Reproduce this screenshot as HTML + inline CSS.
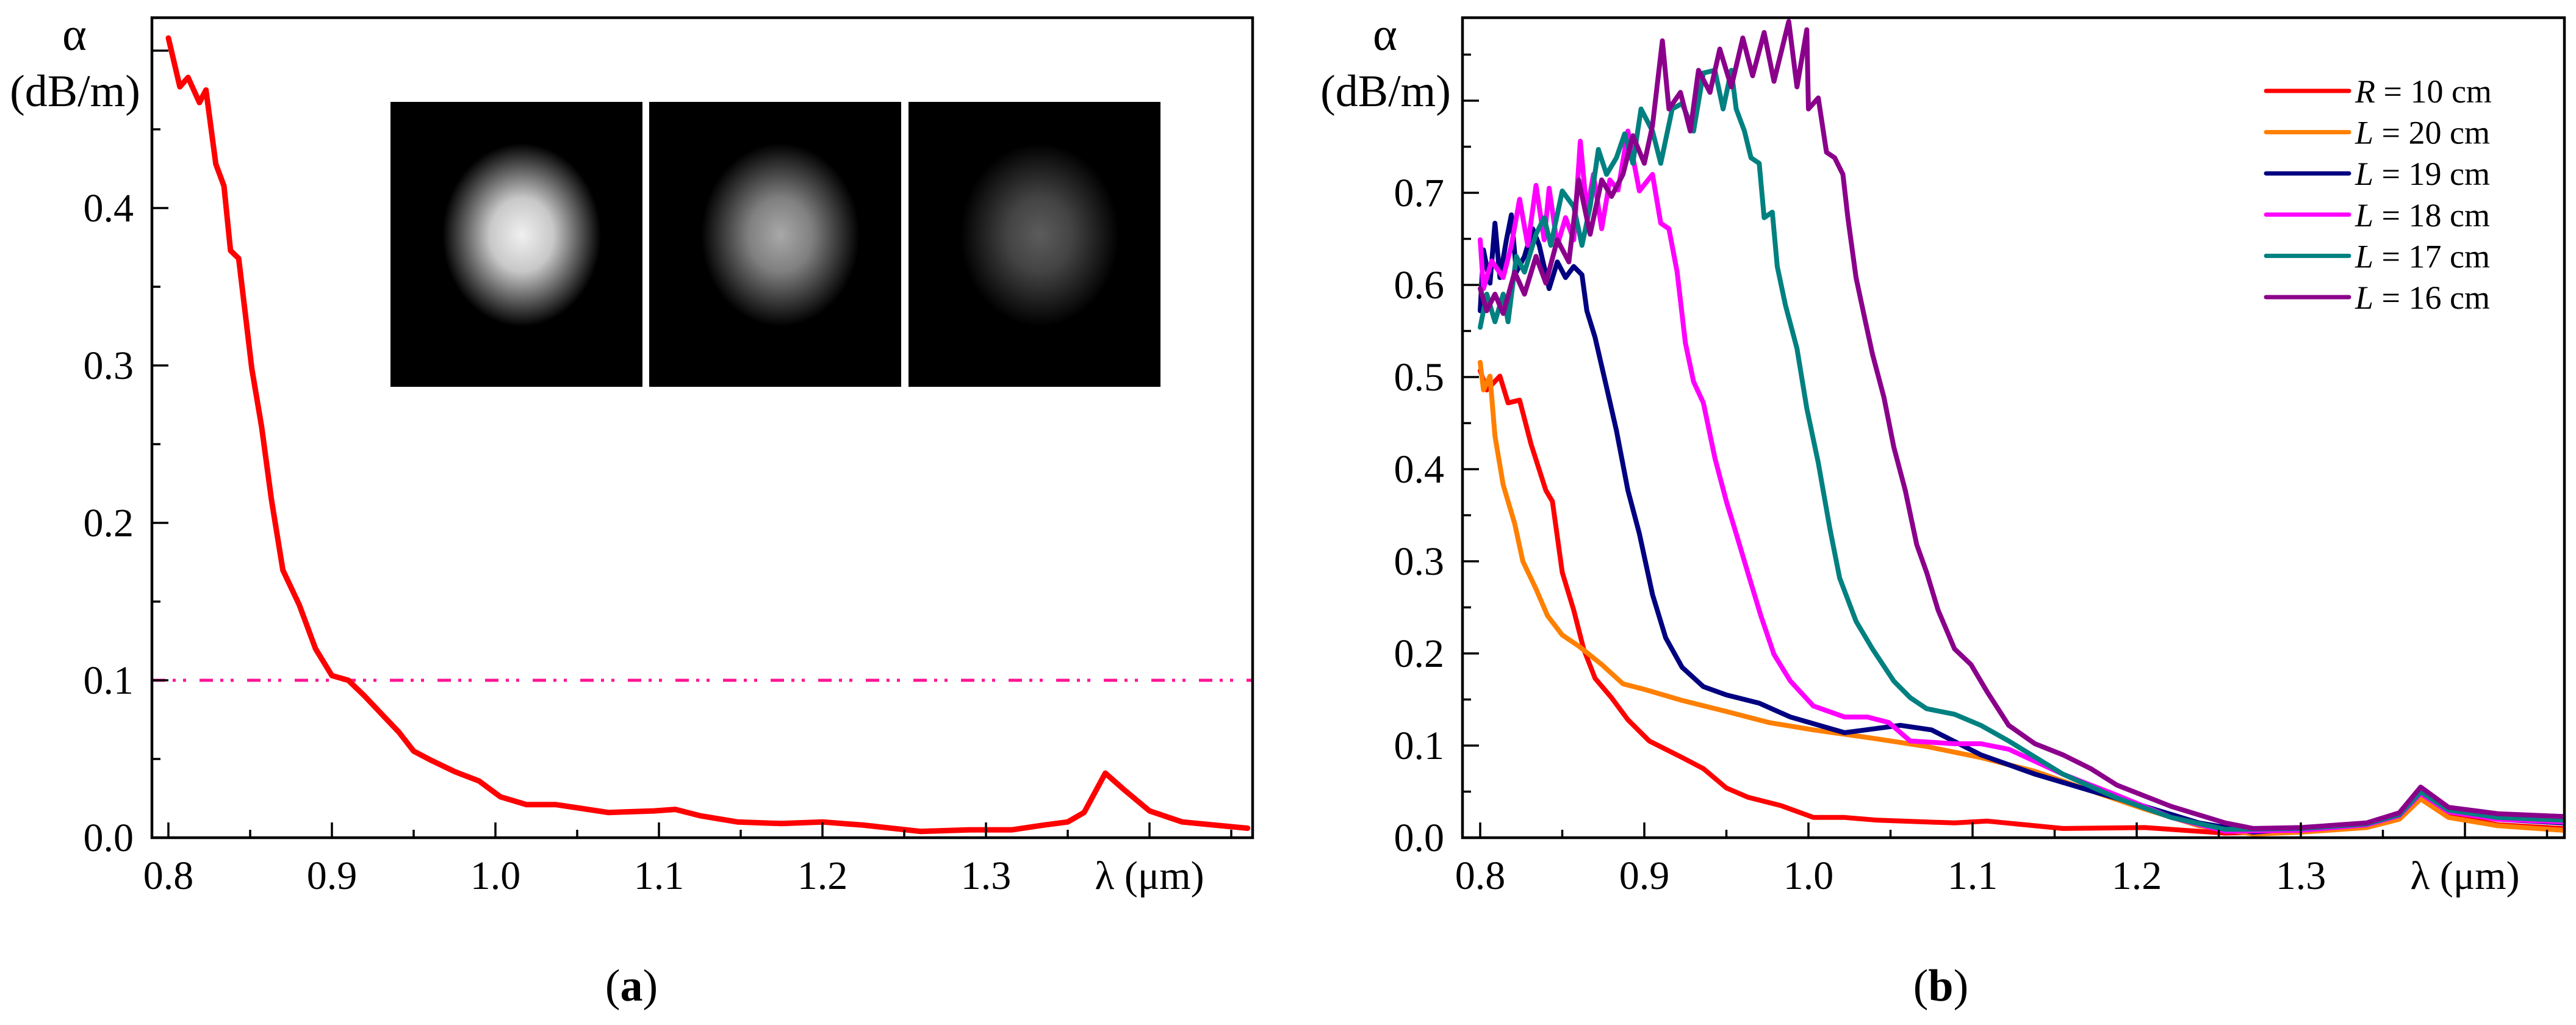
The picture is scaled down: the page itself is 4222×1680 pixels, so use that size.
<!DOCTYPE html>
<html><head><meta charset="utf-8"><style>
html,body{margin:0;padding:0;background:#fff;}
svg{display:block;}
text{font-family:"Liberation Serif",serif;fill:#000;}
</style></head><body>
<svg id="fig" width="4222" height="1680" viewBox="0 0 4222 1680" xmlns="http://www.w3.org/2000/svg">
<defs>
<radialGradient id="g1"><stop offset="0" stop-color="#f0f0f0"/><stop offset="0.4" stop-color="#c8c8c8"/><stop offset="1" stop-color="#000"/></radialGradient>
<radialGradient id="g2"><stop offset="0" stop-color="#a8a8a8"/><stop offset="0.4" stop-color="#808080"/><stop offset="1" stop-color="#000"/></radialGradient>
<radialGradient id="g3"><stop offset="0" stop-color="#5c5c5c"/><stop offset="0.4" stop-color="#444"/><stop offset="1" stop-color="#000"/></radialGradient>
</defs>
<g id="panelA"></g>
<g id="panelB"></g>
</svg>
<script>
// ---------- data ----------
const xTicksMajor = [0.8,0.9,1.0,1.1,1.2,1.3,1.4];
const xTickLabels = ["0.8","0.9","1.0","1.1","1.2","1.3"];
const yTicksA = [0.0,0.1,0.2,0.3,0.4];
const yTickLabelsA = ["0.0","0.1","0.2","0.3","0.4"];
const yTicksB = [0.0,0.1,0.2,0.3,0.4,0.5,0.6,0.7];
const yTickLabelsB = ["0.0","0.1","0.2","0.3","0.4","0.5","0.6","0.7"];
const thresholdA = 0.1;

const lamA = [0.8,0.807,0.812,0.819,0.823,0.829,0.834,0.838,0.843,0.847,0.851,0.857,0.863,0.87,0.88,0.89,0.9,0.91,0.92,0.93,0.941,0.95,0.961,0.975,0.99,1.003,1.019,1.037,1.05,1.069,1.097,1.11,1.125,1.148,1.175,1.2,1.225,1.26,1.29,1.316,1.335,1.35,1.36,1.373,1.385,1.4,1.42,1.44,1.46];
const valA = [0.508,0.477,0.483,0.467,0.475,0.428,0.414,0.373,0.368,0.333,0.298,0.261,0.215,0.17,0.148,0.12,0.103,0.1,0.09,0.079,0.067,0.055,0.049,0.042,0.036,0.026,0.021,0.021,0.019,0.016,0.017,0.018,0.014,0.010,0.009,0.010,0.008,0.004,0.005,0.005,0.008,0.01,0.016,0.041,0.03,0.017,0.01,0.008,0.006];

const seriesNames = ["R = 10 cm","L = 20 cm","L = 19 cm","L = 18 cm","L = 17 cm","L = 16 cm"];
const seriesColors = ["#ff0000","#ff7f00","#000080","#ff00ff","#008080","#8b008b"];

const lamR = [0.8,0.804,0.812,0.817,0.824,0.831,0.84,0.844,0.85,0.857,0.863,0.87,0.88,0.89,0.903,0.923,0.936,0.95,0.963,0.983,1.003,1.022,1.042,1.089,1.109,1.155,1.205,1.254,1.3,1.34,1.36,1.373,1.39,1.42,1.46];
const valR = [0.507,0.486,0.501,0.472,0.475,0.427,0.377,0.365,0.288,0.247,0.205,0.173,0.152,0.128,0.105,0.087,0.075,0.054,0.044,0.035,0.022,0.022,0.019,0.016,0.018,0.010,0.011,0.005,0.007,0.012,0.022,0.045,0.025,0.014,0.01];

const lamO = [0.8,0.802,0.806,0.809,0.814,0.821,0.826,0.834,0.841,0.85,0.86,0.874,0.887,0.9,0.923,0.95,0.976,1.003,1.039,1.072,1.105,1.138,1.172,1.205,1.238,1.271,1.3,1.34,1.36,1.373,1.39,1.42,1.46];
const valO = [0.516,0.486,0.501,0.436,0.383,0.341,0.3,0.27,0.241,0.22,0.208,0.188,0.167,0.161,0.149,0.137,0.125,0.117,0.108,0.099,0.087,0.072,0.051,0.031,0.013,0.004,0.006,0.011,0.02,0.042,0.022,0.013,0.008];

const lamN = [0.8,0.802,0.806,0.809,0.812,0.816,0.819,0.822,0.827,0.832,0.836,0.842,0.847,0.852,0.857,0.862,0.865,0.87,0.877,0.883,0.89,0.897,0.905,0.913,0.923,0.936,0.95,0.97,0.989,1.022,1.056,1.075,1.105,1.138,1.172,1.205,1.238,1.271,1.3,1.34,1.36,1.373,1.39,1.42,1.46];
const valN = [0.572,0.638,0.602,0.667,0.608,0.649,0.676,0.614,0.631,0.661,0.643,0.596,0.625,0.608,0.62,0.611,0.572,0.543,0.489,0.442,0.377,0.33,0.264,0.217,0.185,0.164,0.155,0.146,0.131,0.114,0.122,0.117,0.09,0.069,0.051,0.034,0.016,0.006,0.01,0.015,0.025,0.05,0.03,0.02,0.016];

const lamM = [0.8,0.802,0.807,0.814,0.819,0.824,0.829,0.834,0.839,0.842,0.847,0.852,0.857,0.861,0.865,0.869,0.874,0.879,0.884,0.89,0.897,0.905,0.91,0.915,0.92,0.925,0.93,0.936,0.943,0.95,0.956,0.963,0.971,0.979,0.989,1.003,1.022,1.036,1.049,1.062,1.089,1.105,1.122,1.155,1.188,1.221,1.254,1.3,1.34,1.36,1.373,1.39,1.42,1.46];
const valM = [0.649,0.596,0.626,0.608,0.643,0.693,0.643,0.708,0.649,0.705,0.643,0.673,0.649,0.756,0.679,0.72,0.661,0.714,0.703,0.767,0.702,0.72,0.667,0.661,0.614,0.537,0.495,0.472,0.412,0.365,0.33,0.288,0.241,0.199,0.17,0.143,0.131,0.131,0.125,0.105,0.102,0.102,0.096,0.069,0.046,0.022,0.007,0.008,0.014,0.024,0.048,0.028,0.02,0.017];

const lamT = [0.8,0.804,0.809,0.814,0.817,0.822,0.827,0.834,0.839,0.843,0.85,0.857,0.862,0.867,0.872,0.877,0.883,0.888,0.893,0.898,0.905,0.91,0.917,0.923,0.93,0.936,0.943,0.948,0.953,0.956,0.961,0.965,0.97,0.973,0.978,0.981,0.986,0.993,0.999,1.006,1.013,1.019,1.029,1.039,1.052,1.062,1.072,1.089,1.105,1.122,1.155,1.188,1.221,1.254,1.3,1.34,1.36,1.373,1.39,1.42,1.46];
const valT = [0.554,0.59,0.56,0.59,0.56,0.631,0.614,0.655,0.673,0.643,0.702,0.685,0.643,0.685,0.747,0.72,0.738,0.764,0.732,0.791,0.767,0.732,0.791,0.797,0.767,0.83,0.833,0.791,0.833,0.791,0.767,0.738,0.732,0.673,0.679,0.62,0.578,0.531,0.466,0.407,0.336,0.282,0.235,0.205,0.17,0.152,0.14,0.134,0.122,0.105,0.069,0.043,0.022,0.009,0.01,0.015,0.025,0.05,0.03,0.022,0.019];

const lamP = [0.8,0.804,0.809,0.814,0.821,0.827,0.834,0.84,0.847,0.854,0.86,0.867,0.874,0.88,0.887,0.893,0.9,0.905,0.911,0.915,0.922,0.928,0.933,0.94,0.946,0.953,0.96,0.966,0.973,0.979,0.988,0.993,0.999,1.0,1.006,1.011,1.016,1.021,1.024,1.029,1.034,1.039,1.046,1.052,1.059,1.066,1.072,1.079,1.089,1.099,1.109,1.122,1.138,1.155,1.172,1.188,1.221,1.254,1.271,1.3,1.34,1.36,1.373,1.39,1.42,1.46];
const valP = [0.596,0.572,0.59,0.569,0.614,0.59,0.631,0.602,0.649,0.625,0.714,0.655,0.714,0.696,0.72,0.762,0.732,0.773,0.865,0.791,0.809,0.767,0.833,0.809,0.856,0.815,0.868,0.827,0.874,0.821,0.886,0.815,0.877,0.791,0.803,0.744,0.738,0.72,0.673,0.608,0.566,0.525,0.478,0.424,0.377,0.318,0.288,0.247,0.205,0.188,0.158,0.122,0.102,0.09,0.075,0.057,0.034,0.016,0.01,0.011,0.016,0.027,0.055,0.033,0.026,0.023];

// ---------- helpers ----------
const NS = "http://www.w3.org/2000/svg";
function mk(tag, attrs, parent, txt){
  const e = document.createElementNS(NS, tag);
  for (const k in attrs) e.setAttribute(k, attrs[k]);
  if (txt !== undefined) e.textContent = txt;
  parent.appendChild(e);
  return e;
}
const FS = 66;

function buildPanel(g, cfg){
  const xS = v => cfg.x08 + (v - 0.8) * cfg.pxPerUnitX;
  const yS = v => cfg.y0 - v * cfg.pxPerUnitY;
  if (cfg.before) cfg.before(g, xS, yS);
  cfg.series.forEach((s, i) => {
    let d = "";
    s.lam.forEach((l, j) => { d += (j ? "L" : "M") + xS(l).toFixed(1) + " " + yS(s.val[j]).toFixed(1); });
    const p = mk("path", {d: d, fill: "none", stroke: s.color, "stroke-width": cfg.lw, "stroke-linejoin": "round", "stroke-linecap": "round"}, g);
    
    
  });
  const fr = mk("rect", {x: cfg.left, y: cfg.top, width: cfg.right - cfg.left, height: cfg.y0 - cfg.top, fill: "none", stroke: "#000", "stroke-width": 4.5}, g);
  
  
  for (let v = 0.8; v <= 1.46; v += 0.05) {
    const vv = Math.round(v * 100) / 100;
    const major = Math.abs(vv * 10 - Math.round(vv * 10)) < 1e-6;
    const t = mk("line", {x1: xS(vv), x2: xS(vv), y1: cfg.y0, y2: cfg.y0 - (major ? 25 : 13), stroke: "#000", "stroke-width": 3.5}, g);
    
    
  }
  xTickLabels.forEach((lab, i) => {
    const t = mk("text", {x: xS(xTicksMajor[i]), y: cfg.y0 + 84, "font-size": FS, "text-anchor": "middle"}, g, lab);
    
    
  });
  const xt = mk("text", {x: xS(1.4), y: cfg.y0 + 84, "font-size": FS, "text-anchor": "middle"}, g, "λ (μm)");
  
  
  for (let v = 0; v <= cfg.ymax + 1e-9; v += 0.05) {
    const vv = Math.round(v * 100) / 100;
    const major = Math.abs(vv * 10 - Math.round(vv * 10)) < 1e-6;
    const t = mk("line", {x1: cfg.left, x2: cfg.left + (major ? 27 : 14), y1: yS(vv), y2: yS(vv), stroke: "#000", "stroke-width": 3.5}, g);
    
    
  }
  cfg.yLabels.forEach((lab, i) => {
    const t = mk("text", {x: cfg.left - 30, y: yS(cfg.yTicks[i]) + 22, "font-size": FS, "text-anchor": "end"}, g, lab);
    
    
  });
  const ya = mk("text", {x: cfg.left - 127, y: 82, "font-size": 76, "text-anchor": "middle"}, g, "α");
  
  
  const yu = mk("text", {x: cfg.left - 126, y: 174, "font-size": 74, "text-anchor": "middle"}, g, "(dB/m)");
  
  
  const pl = mk("text", {x: cfg.labelX, y: 1640, "font-size": 74, "text-anchor": "middle"}, g);
  
  
  mk("tspan", {}, pl, "(");
  mk("tspan", {"font-weight": "bold"}, pl, cfg.letter);
  mk("tspan", {}, pl, ")");
  if (cfg.after) cfg.after(g, xS, yS);
}

// Panel A
buildPanel(document.getElementById("panelA"), {
  left: 249, right: 2053, top: 29, y0: 1373, x08: 276, pxPerUnitX: 2680, pxPerUnitY: 2580, ymax: 0.5,
  yTicks: yTicksA, yLabels: yTickLabelsA, lw: 9, labelX: 1035, letter: "a",
  series: [{lam: lamA, val: valA, color: "#ff0000", name: "attenuation-curve"}],
  before: function(g, xS, yS){
    const boxes = [[640,"g1"],[1064,"g2"],[1489,"g3"]];
    boxes.forEach((b, i) => {
      const r = mk("rect", {x: b[0], y: 167, width: 413, height: 467, fill: "#000"}, g);
      
      
      const el = mk("ellipse", {cx: b[0] + 215, cy: 385, rx: 130, ry: 150, fill: "url(#" + b[1] + ")"}, g);
      
      
    });
    const th = mk("line", {x1: 249, x2: 2053, y1: yS(thresholdA), y2: yS(thresholdA), stroke: "#ff1493", "stroke-width": 5, "stroke-dasharray": "22 12 5 12 5 22"}, g);
    
    
  }
});

// Panel B
const seriesLams = [lamR, lamO, lamN, lamM, lamT, lamP];
const seriesVals = [valR, valO, valN, valM, valT, valP];
buildPanel(document.getElementById("panelB"), {
  left: 2397, right: 4203, top: 29, y0: 1373, x08: 2426, pxPerUnitX: 2690, pxPerUnitY: 1510, ymax: 0.85,
  yTicks: yTicksB, yLabels: yTickLabelsB, lw: 8, labelX: 3181, letter: "b",
  series: seriesLams.map((l, i) => ({lam: l, val: seriesVals[i], color: seriesColors[i], name: "series-" + ["r10","l20","l19","l18","l17","l16"][i]})),
  after: function(g){
    const leg = mk("g", {}, g);
    
    
    seriesNames.forEach((n, i) => {
      const y = 149 + i * 67.6;
      const ln = mk("line", {x1: 3714, x2: 3850, y1: y, y2: y, stroke: seriesColors[i], "stroke-width": 7, "stroke-linecap": "round"}, leg);
      
      
      const t = mk("text", {x: 3860, y: y + 19, "font-size": 54}, leg);
      
      
      mk("tspan", {"font-style": "italic"}, t, n.charAt(0));
      mk("tspan", {}, t, n.slice(1));
    });
  }
});
</script>
</body></html>
